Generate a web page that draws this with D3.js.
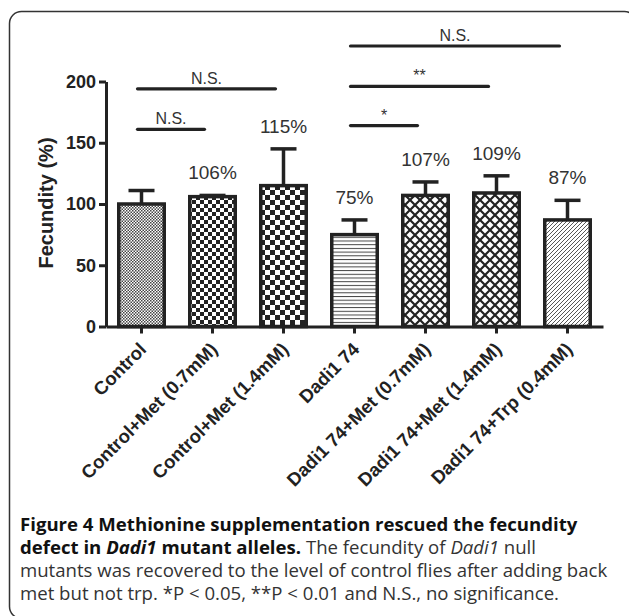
<!DOCTYPE html>
<html>
<head>
<meta charset="utf-8">
<script src="https://cdn.jsdelivr.net/npm/d3@7"></script>
<style>
  body { margin: 0; background: #fff; }
  svg { display: block; }
</style>
</head>
<body>
<div id="chart"></div>
<script>
// chart values
var categories = ["Control", "Control+Met (0.7mM)", "Control+Met (1.4mM)",
  "Dadi1 74", "Dadi1 74+Met (0.7mM)", "Dadi1 74+Met (1.4mM)", "Dadi1 74+Trp (0.4mM)"];
var fecundity = [100, 106, 115, 75, 107, 109, 87];
var errors = [11, 1, 30, 12, 11, 14, 16];
var pctLabels = ["", "106%", "115%", "75%", "107%", "109%", "87%"];
var yTicks = [0, 50, 100, 150, 200];

// significance brackets (bar index from / to, height in % units, text)
var sigFrom = [0, 0, 3, 3, 3];
var sigTo = [1, 2, 4, 5, 6];
var sigLevel = [161, 194, 164, 196, 229];
var sigText = ["N.S.", "N.S.", "*", "**", "N.S."];

var width = 629,
  height = 616,
  ink = "#222";

var svg = d3.select("#chart")
  .append("svg")
  .attr("width", width)
  .attr("height", height);

// fill patterns for the bars
var defs = svg.append("defs");

function checker(id, size, color) {
  var p = defs.append("pattern")
    .attr("id", id)
    .attr("patternUnits", "userSpaceOnUse")
    .attr("width", size * 2)
    .attr("height", size * 2);
  p.append("rect").attr("width", size * 2).attr("height", size * 2).attr("fill", "#fff");
  p.append("rect").attr("width", size).attr("height", size).attr("fill", color);
  p.append("rect").attr("x", size).attr("y", size)
    .attr("width", size).attr("height", size).attr("fill", color);
}
checker("p0", 1.5, "#444");
checker("p1", 4, "#222");
checker("p2", 5, "#222");

var hz = defs.append("pattern")
  .attr("id", "p3")
  .attr("patternUnits", "userSpaceOnUse")
  .attr("width", 8).attr("height", 3.7);
hz.append("rect").attr("width", 8).attr("height", 3.7).attr("fill", "#fff");
hz.append("line").attr("x1", 0).attr("x2", 8).attr("y1", 0.5).attr("y2", 0.5)
  .attr("stroke", "#444").attr("stroke-width", 1);

var cross = defs.append("pattern")
  .attr("id", "p4")
  .attr("patternUnits", "userSpaceOnUse")
  .attr("width", 10).attr("height", 10);
cross.append("rect").attr("width", 10).attr("height", 10).attr("fill", "#fff");
cross.append("path").attr("d", "M-1,-1L11,11M-1,11L11,-1")
  .attr("stroke", ink).attr("stroke-width", 2.2);

var diag = defs.append("pattern")
  .attr("id", "p6")
  .attr("patternUnits", "userSpaceOnUse")
  .attr("width", 4).attr("height", 4);
diag.append("rect").attr("width", 4).attr("height", 4).attr("fill", "#fff");
diag.append("path").attr("d", "M-1,1L1,-1M0,4L4,0M3,5L5,3")
  .attr("stroke", "#444").attr("stroke-width", 0.9);

var fills = ["url(#p0)", "url(#p1)", "url(#p2)", "url(#p3)", "url(#p4)", "url(#p4)", "url(#p6)"];

// rounded frame around the figure
svg.append("rect")
  .attr("x", 9.5).attr("y", 11.5)
  .attr("width", 627).attr("height", 607)
  .attr("rx", 12)
  .attr("fill", "none")
  .attr("stroke", "#333")
  .attr("stroke-width", 1.5);

// scales
var x = d3.scaleBand()
  .domain(categories)
  .range([106, 603])
  .paddingInner(0.31)
  .paddingOuter(0.155);

var y = d3.scaleLinear()
  .domain([0, 200])
  .range([326.5, 81.5]);

var bw = x.bandwidth();
function cx(i) { return x(categories[i]) + bw / 2; }

// bars
svg.selectAll(".bar")
  .data(fecundity)
  .enter()
  .append("rect")
  .attr("class", "bar")
  .attr("x", function(d, i) { return x(categories[i]) + 1.75; })
  .attr("y", function(d) { return y(d); })
  .attr("width", bw - 3.5)
  .attr("height", function(d) { return y(0) - y(d); })
  .attr("fill", function(d, i) { return fills[i]; })
  .attr("stroke", ink)
  .attr("stroke-width", 3.5);

// error bars (upper only)
var err = svg.selectAll(".err")
  .data(fecundity)
  .enter()
  .append("g")
  .attr("class", "err")
  .attr("stroke", ink)
  .attr("stroke-width", 3.5);

err.append("line")
  .attr("x1", function(d, i) { return cx(i); })
  .attr("x2", function(d, i) { return cx(i); })
  .attr("y1", function(d) { return y(d); })
  .attr("y2", function(d, i) { return y(d + errors[i]); });

err.append("line")
  .attr("x1", function(d, i) { return cx(i) - 13; })
  .attr("x2", function(d, i) { return cx(i) + 13; })
  .attr("y1", function(d, i) { return y(d + errors[i]); })
  .attr("y2", function(d, i) { return y(d + errors[i]); });

// percentage labels above the error bars
svg.selectAll(".pct")
  .data(pctLabels)
  .enter()
  .append("text")
  .attr("class", "pct")
  .attr("x", function(d, i) { return cx(i); })
  .attr("y", function(d, i) { return y(fecundity[i] + errors[i]) - 16; })
  .attr("text-anchor", "middle")
  .style("font-family", "'Liberation Sans', Arial, sans-serif")
  .style("font-size", "19px")
  .style("fill", "#333")
  .text(function(d) { return d; });

// significance lines
var sig = svg.selectAll(".sig")
  .data(sigText)
  .enter()
  .append("g")
  .attr("class", "sig");

sig.append("line")
  .attr("x1", function(d, i) { return cx(sigFrom[i]) - 4; })
  .attr("x2", function(d, i) { return cx(sigTo[i]) - 8; })
  .attr("y1", function(d, i) { return y(sigLevel[i]); })
  .attr("y2", function(d, i) { return y(sigLevel[i]); })
  .attr("stroke", ink)
  .attr("stroke-width", 3.2)
  .attr("stroke-linecap", "round");

sig.append("text")
  .attr("x", function(d, i) { return (cx(sigFrom[i]) + cx(sigTo[i])) / 2 - 6; })
  .attr("y", function(d, i) { return y(sigLevel[i]) - 5; })
  .attr("text-anchor", "middle")
  .style("font-family", "'Liberation Sans', Arial, sans-serif")
  .style("font-size", "16px")
  .style("fill", "#333")
  .text(function(d) { return d; });

// y axis
var yAxis = svg.append("g")
  .attr("transform", "translate(106,0)")
  .call(d3.axisLeft(y).tickValues(yTicks).tickSize(7).tickSizeOuter(0).tickPadding(3));

yAxis.selectAll("path, line")
  .attr("stroke", ink)
  .attr("stroke-width", 3);
yAxis.selectAll("text")
  .style("font-family", "'Liberation Sans', Arial, sans-serif")
  .style("font-size", "18px")
  .style("font-weight", "bold")
  .style("fill", "#222");

// x axis
var xAxis = svg.append("g")
  .attr("transform", "translate(0," + y(0) + ")")
  .call(d3.axisBottom(x).tickSize(7).tickSizeOuter(0));

xAxis.selectAll("path, line")
  .attr("stroke", ink)
  .attr("stroke-width", 3);
xAxis.selectAll("text")
  .attr("x", 6)
  .attr("y", 24)
  .attr("dy", null)
  .attr("text-anchor", "end")
  .attr("transform", "rotate(-45, 6, 24)")
  .style("font-family", "'Liberation Sans', Arial, sans-serif")
  .style("font-size", "18.5px")
  .style("font-weight", "bold")
  .style("fill", "#222");

// y axis title
svg.append("text")
  .attr("transform", "translate(53,203) rotate(-90)")
  .attr("text-anchor", "middle")
  .style("font-family", "'Liberation Sans', Arial, sans-serif")
  .style("font-size", "20px")
  .style("font-weight", "bold")
  .style("fill", "#222")
  .text("Fecundity (%)");

// caption below the chart
var capLines = [
  [["b", "Figure 4 Methionine supplementation rescued the fecundity"]],
  [["b", "defect in "], ["bi", "Dadi1"], ["b", " mutant alleles."], ["r", " The fecundity of "], ["i", "Dadi1"], ["r", " null"]],
  [["r", "mutants was recovered to the level of control flies after adding back"]],
  [["r", "met but not trp. *P < 0.05, **P < 0.01 and N.S., no significance."]]
];

var cap = svg.append("text")
  .style("font-family", "'Open Sans', sans-serif")
  .style("font-size", "18.6px");

capLines.forEach(function(line, li) {
  line.forEach(function(part, pi) {
    var t = cap.append("tspan")
      .text(part[1])
      .style("fill", part[0].indexOf("b") >= 0 ? "#111" : "#333")
      .style("font-weight", part[0].indexOf("b") >= 0 ? "bold" : "normal")
      .style("font-style", part[0].indexOf("i") >= 0 ? "italic" : "normal");
    if (pi == 0) t.attr("x", 20).attr("y", 531 + li * 23);
  });
});
</script>
</body>
</html>
